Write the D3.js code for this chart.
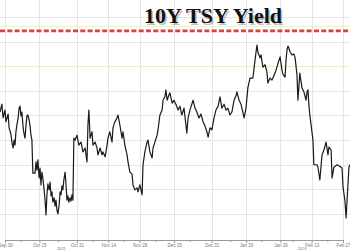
<!DOCTYPE html>
<html>
<head>
<meta charset="utf-8">
<script src="https://cdn.jsdelivr.net/npm/d3@7"></script>
<style>
  body { margin: 0; background: #fff; }
  svg { display: block; }
</style>
</head>
<body>
<script>
//Variables
const width = 350;
const height = 250;
const axisY = 240;

//Data
const titleText = "10Y TSY Yield";

// trading sessions after Sep 30 2025 (fractional = intraday)
const session = [
  -1.6, -1.0, -0.6, 0, 0.3, 1.0, 1.3, 1.9, 2.2, 2.6, 2.9, 3.2, 3.5, 3.8, 4.2, 4.5, 4.8, 5.1, 5.4, 5.8,
  6.1, 6.4, 6.7, 7.0, 7.3, 7.7, 8.0, 8.3, 8.6,
  8.9, 9.6, 9.9, 10.2, 10.5, 10.9, 11.2, 11.5, 11.8, 12.1, 12.5, 12.8, 13.1, 13.4, 13.7, 14.1, 14.4, 14.7, 15.0, 15.3,
  15.7, 16.0, 16.3, 16.6, 16.9, 17.3, 17.6, 17.9, 18.2, 18.5, 18.8, 19.2, 19.5, 19.8, 20.1, 20.4, 20.8, 21.1, 21.4, 21.7, 22.0,
  22.4, 23.0, 23.6, 24.3, 24.9, 25.6, 26.2, 26.5, 26.8, 27.2, 27.8, 28.1, 28.8, 29.4, 29.7, 30.4, 31.0, 31.3, 32.0, 32.6,
  32.9, 33.5, 34.2, 34.5, 35.1, 35.8, 36.1, 36.7, 37.4, 37.7, 38.3, 39.0, 39.3, 39.9, 40.6, 40.9, 41.5, 42.2, 42.5, 43.1,
  43.8, 44.1, 44.7, 45.4, 45.7, 46.3, 47.0, 47.3, 47.9, 48.6, 48.9, 49.5, 50.2, 50.5, 51.1, 51.4, 51.8, 52.4, 52.7, 53.4, 54.0,
  54.6, 55.3, 55.9, 56.5, 57.2, 57.8, 58.1, 58.5, 59.1, 59.7, 60.1, 60.7, 61.3, 62.0, 62.6, 63.3, 63.9, 64.5, 64.9, 65.5,
  66.1, 66.8, 67.4, 68.1, 68.7, 69.3, 70.0, 70.6, 71.2, 71.9, 72.5, 73.2, 73.8, 74.1, 74.8, 75.4, 76.0, 76.4, 77.0, 77.6,
  78.3, 79.2, 79.9, 80.5, 80.8, 81.5, 81.8, 82.4, 83.1, 83.7, 84.0, 84.7, 85.3, 85.9, 86.6, 87.2, 87.9, 88.5, 88.8, 89.5,
  89.8, 90.1, 90.4, 90.7, 91.1, 91.7, 92.3, 92.7, 93.3, 93.6, 94.2, 94.9, 95.5, 96.2, 96.5, 96.8, 97.1, 97.4, 97.8, 98.4,
  98.7, 99.7, 100.0, 100.6, 101.3, 101.9, 102.6, 103.2, 103.5, 104.2, 104.5, 105.1, 106.1, 107.0, 107.7, 108.0, 108.6, 109.0,
  109.3, 109.9, 110.2
];

const yield10y = [
  4.157, 4.173, 4.145, 4.161, 4.137, 4.153, 4.125, 4.112, 4.096, 4.084, 4.100, 4.090, 4.117, 4.131, 4.145, 4.165, 4.169, 4.149, 4.157, 4.125,
  4.112, 4.104, 4.129, 4.149, 4.151, 4.141, 4.129, 4.110, 4.100,
  4.033, 4.033, 4.056, 4.039, 4.060, 4.023, 4.043, 4.009, 4.035, 4.023, 3.999, 3.978, 3.948, 3.989, 4.011, 3.999, 4.015, 3.987, 3.995, 3.974,
  3.983, 3.966, 3.978, 3.958, 3.950, 3.968, 3.995, 3.989, 4.007, 3.999, 4.019, 4.035, 4.009, 3.978, 3.987, 3.974, 3.983, 3.976, 3.989, 3.978, 4.104,
  4.100, 4.110, 4.090, 4.096, 4.076, 4.084, 4.056, 4.131, 4.161, 4.104, 4.117, 4.090, 4.096, 4.084, 4.070, 4.084, 4.070, 4.076, 4.066, 4.090,
  4.104, 4.117, 4.096, 4.125, 4.137, 4.145, 4.151, 4.131, 4.104, 4.117, 4.090, 4.070, 4.056, 4.035, 4.031, 4.009, 3.999, 4.003, 3.995, 4.009,
  3.989, 4.050, 4.076, 4.096, 4.100, 4.076, 4.064, 4.084, 4.096, 4.110, 4.121, 4.151, 4.161, 4.181, 4.188, 4.202, 4.181, 4.192, 4.196, 4.175, 4.181,
  4.173, 4.161, 4.169, 4.151, 4.165, 4.131, 4.114, 4.145, 4.161, 4.173, 4.181, 4.165, 4.157, 4.145, 4.153, 4.137, 4.129, 4.117, 4.106, 4.125,
  4.121, 4.145, 4.161, 4.169, 4.188, 4.165, 4.173, 4.161, 4.165, 4.151, 4.157, 4.181, 4.190, 4.198, 4.181, 4.173, 4.157, 4.145, 4.165, 4.206,
  4.226, 4.226, 4.263, 4.293, 4.279, 4.267, 4.273, 4.248, 4.253, 4.238, 4.216, 4.226, 4.222, 4.230, 4.242, 4.255, 4.269, 4.242, 4.234, 4.228,
  4.263, 4.283, 4.291, 4.287, 4.279, 4.273, 4.275, 4.267, 4.232, 4.181, 4.236, 4.206, 4.198, 4.181, 4.198, 4.202, 4.171, 4.151, 4.131, 4.100,
  4.050, 4.050, 4.045, 4.019, 4.070, 4.080, 4.096, 4.070, 4.086, 4.080, 4.023, 4.045, 4.050, 4.047, 4.043, 4.005, 3.978, 3.942,
  3.978, 4.045, 4.050
];

const tickDates = ["2025-09-30", "2025-10-15", "2025-10-31", "2025-11-14", "2025-11-28", "2025-12-15",
                   "2025-12-31", "2026-01-15", "2026-01-30", "2026-02-13", "2026-02-27"];
const tickLabels = ["Sep 30", "Oct 15", "Oct 31", "Nov 14", "Nov 28", "Dec 15",
                    "Dec 31", "Jan 15", "Jan 30", "Feb 13", "Feb 27"];
const minorDates = ["2025-10-07", "2025-10-23", "2025-11-07", "2025-11-21", "2025-12-05",
                    "2025-12-22", "2026-01-08", "2026-01-22", "2026-02-05", "2026-02-20"];
const yearLabels = ["2025", "2026"];
const yearDates = ["2025-10-24", "2026-02-10"];

const gridLevels = [3.95, 4.00, 4.05, 4.10, 4.15, 4.20, 4.30, 4.35];
const paleLevels = [4.332, 4.25];
const dashLevel = 4.322;

//Trading-day position of a date
const parse = d3.timeParse("%Y-%m-%d");
const startDate = parse(tickDates[0]);
const toSession = s => d3.timeDays(startDate, parse(s))
                         .filter(d => d.getDay() !== 0 && d.getDay() !== 6).length;

//SVG
const svg = d3.select("body")
    .append("svg")
    .attr("width", width)
    .attr("height", height)
    .style("background-color", "#fff");

//Scales
const xScale = d3.scaleLinear()
    .domain([0, toSession(tickDates[tickDates.length - 1])])
    .range([5, 343]);

const yScale = d3.scaleLinear()
    .domain([3.95, 4.35])
    .range([214, 17]);

//Grid
svg.append("g")
    .selectAll("line")
    .data(gridLevels)
    .enter()
    .append("line")
    .attr("x1", 0)
    .attr("x2", width)
    .attr("y1", d => Math.round(yScale(d)) + 0.5)
    .attr("y2", d => Math.round(yScale(d)) + 0.5)
    .attr("stroke", "#e6e6e6");

svg.append("g")
    .selectAll("line")
    .data(paleLevels)
    .enter()
    .append("line")
    .attr("x1", 0)
    .attr("x2", width)
    .attr("y1", d => Math.round(yScale(d)) + 0.5)
    .attr("y2", d => Math.round(yScale(d)) + 0.5)
    .attr("stroke", "#efebc6");

svg.append("g")
    .selectAll("line")
    .data(tickDates)
    .enter()
    .append("line")
    .attr("x1", d => Math.round(xScale(toSession(d))) + 0.5)
    .attr("x2", d => Math.round(xScale(toSession(d))) + 0.5)
    .attr("y1", 0)
    .attr("y2", axisY)
    .attr("stroke", "#e6e6e6");

//Title
svg.append("text")
    .text(titleText)
    .attr("x", 214.5)
    .attr("y", 24.5)
    .attr("text-anchor", "middle")
    .style("font-family", "'Liberation Serif', 'Times New Roman', serif")
    .style("font-weight", "bold")
    .style("font-size", "22px")
    .style("fill", "#999")
    .style("opacity", 0.6);

svg.append("text")
    .text(titleText)
    .attr("x", 213)
    .attr("y", 23)
    .attr("text-anchor", "middle")
    .style("font-family", "'Liberation Serif', 'Times New Roman', serif")
    .style("font-weight", "bold")
    .style("font-size", "22px")
    .style("fill", "#111");

//Red dashed level
svg.append("line")
    .attr("x1", 0)
    .attr("x2", width)
    .attr("y1", yScale(dashLevel))
    .attr("y2", yScale(dashLevel))
    .attr("stroke", "#dc3f42")
    .attr("stroke-width", 2.8)
    .attr("stroke-dasharray", "5,2.3");

//X axis
const xAxis = d3.axisBottom(xScale)
    .tickValues(tickDates.map(toSession))
    .tickFormat((d, i) => tickLabels[i])
    .tickSize(3)
    .tickPadding(0.5);

const gx = svg.append("g")
    .attr("transform", `translate(0, ${axisY})`)
    .call(xAxis);

gx.select(".domain").attr("stroke", "#9a9a9a");
gx.selectAll(".tick line").attr("stroke", "#9a9a9a");
gx.selectAll(".tick text")
    .style("font-family", "'Liberation Sans', Arial, sans-serif")
    .style("font-size", "4.5px")
    .style("fill", "#777");

const minorAxis = d3.axisBottom(xScale)
    .tickValues(minorDates.map(toSession))
    .tickFormat("")
    .tickSize(2)
    .tickSizeOuter(0);

const gm = svg.append("g")
    .attr("transform", `translate(0, ${axisY})`)
    .call(minorAxis);
gm.select(".domain").remove();
gm.selectAll(".tick line").attr("stroke", "#9a9a9a");

svg.append("g")
    .selectAll("text")
    .data(yearLabels)
    .enter()
    .append("text")
    .text(d => d)
    .attr("x", (d, i) => xScale(toSession(yearDates[i])))
    .attr("y", 249.5)
    .attr("text-anchor", "middle")
    .style("font-family", "'Liberation Sans', Arial, sans-serif")
    .style("font-size", "4px")
    .style("fill", "#777");

//Line
svg.append("clipPath")
    .attr("id", "plot")
    .append("rect")
    .attr("x", 0)
    .attr("y", 0)
    .attr("width", width)
    .attr("height", axisY);

const line = d3.line()
    .x(d => xScale(d[0]))
    .y(d => yScale(d[1]));

svg.append("path")
    .datum(d3.zip(session, yield10y))
    .attr("clip-path", "url(#plot)")
    .attr("d", line)
    .attr("fill", "none")
    .attr("stroke", "#1a1a1a")
    .attr("stroke-width", 1.2)
    .attr("stroke-linejoin", "round");
</script>
</body>
</html>
